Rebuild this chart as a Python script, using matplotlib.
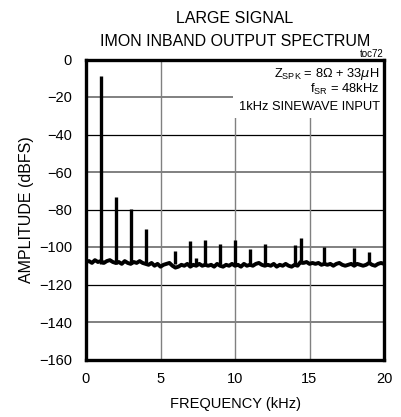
import numpy as np
import matplotlib
matplotlib.use('Agg')
from matplotlib import pyplot as plt
from matplotlib.patches import Rectangle

plt.rcParams['font.family'] = ['Liberation Sans Narrow', 'Liberation Sans', 'DejaVu Sans']
plt.rcParams['mathtext.fontset'] = 'custom'
plt.rcParams['mathtext.rm'] = 'Liberation Sans'

# noise floor, one value every 0.2 kHz from 0 to 20 kHz
noise_freq = [i * 0.2 for i in range(101)]
noise_db = [
    -108, -107.5, -108.5, -107, -108, -107.5, -108.5, -107.5, -107, -108, -108.5,
    -108, -109, -107.5, -108.5, -109, -108, -108.5, -107.5, -108.5, -109,
    -109.5, -108.5, -110, -109, -110.5, -109.5, -109, -108.5, -110, -111,
    -110.5, -109.5, -110, -109, -110.5, -109.5, -110, -109, -110, -109.5,
    -110, -109.5, -110.5, -109, -110, -110.5, -109.5, -110, -109, -110,
    -109.5, -110.5, -109, -110, -109.5, -110, -109, -108.5, -109.5, -110,
    -109.5, -110, -109, -110.5, -109.5, -110, -109, -110, -110.5, -109.5,
    -110, -108, -108.5, -108, -109, -108.5, -109, -108.5, -109.5, -109,
    -109.5, -109, -110, -109, -108.5, -109.5, -110, -109.5, -109, -110,
    -109, -109.5, -110, -109.5, -108.5, -109.5, -110, -109, -108.5, -109,
]

# harmonic / spur peaks
spike_freq = [1.0, 2.0, 3.0, 4.0, 6.0, 7.0, 7.4, 8.0, 9.0, 10.0, 11.0, 12.0,
              14.0, 14.4, 16.0, 18.0, 19.0]
spike_db = [-9, -73.5, -79.5, -90.5, -102, -96.8, -106, -96.5, -98.6, -96.5,
            -101, -98.5, -99, -95, -99.8, -100.7, -102.8]
spike_base = -109

xticks = [0, 5, 10, 15, 20]
yticks = [0, -20, -40, -60, -80, -100, -120, -140, -160]

fig = plt.figure(figsize=(4.01, 4.17), dpi=100)
ax = fig.add_axes([86 / 401, 1 - 359.5 / 417, 298 / 401, 300 / 417])

# grid: alternating grey / black horizontals, grey verticals
for y in [-20, -60, -100, -140]:
    ax.axhline(y, color='#808080', lw=1.4, zorder=1)
for y in [-40, -80, -120]:
    ax.axhline(y, color='black', lw=0.9, zorder=1)
for x in [5, 10, 15]:
    ax.axvline(x, color='#808080', lw=1.0, zorder=1)

ax.add_patch(Rectangle((9.87, -31.2), 10.13, 31.2, facecolor='white',
                       edgecolor='none', zorder=2))

ax.plot(noise_freq, noise_db, color='black', lw=2.8, zorder=3)
ax.vlines(spike_freq, spike_base, spike_db, color='black', lw=2.4, zorder=3)

ax.set_xlim(0, 20)
ax.set_ylim(-160, 0)
ax.set_xticks(xticks)
ax.set_yticks(yticks)
ax.tick_params(length=0, labelsize=10.5)
ax.tick_params(axis='y', pad=10)
ax.tick_params(axis='x', pad=9)
for s in ax.spines.values():
    s.set_linewidth(2.4)
    s.set_zorder(5)

ax.set_xlabel('FREQUENCY (kHz)', fontsize=10.5, labelpad=8)
ax.set_ylabel('AMPLITUDE (dBFS)', fontsize=11.5, labelpad=3.5)
ax.set_title('LARGE SIGNAL\nIMON INBAND OUTPUT SPECTRUM', fontsize=11.5,
             pad=10, linespacing=1.6)

ax.text(1.0, 1.008, 'toc72', transform=ax.transAxes, ha='right', va='baseline',
        fontsize=7)
ax.text(0.985, 0.94, r'Z$_{\mathrm{SPK}}$ = 8$\Omega$ + 33$\mu$H', transform=ax.transAxes,
        ha='right', va='baseline', fontsize=9.3, zorder=6)
ax.text(0.985, 0.887, r'f$_{\mathrm{SR}}$ = 48kHz', transform=ax.transAxes,
        ha='right', va='baseline', fontsize=9.3, zorder=6)
ax.text(0.985, 0.83, '1kHz SINEWAVE INPUT', transform=ax.transAxes,
        ha='right', va='baseline', fontsize=9.3, zorder=6)

fig.savefig('out.png', dpi=100)
